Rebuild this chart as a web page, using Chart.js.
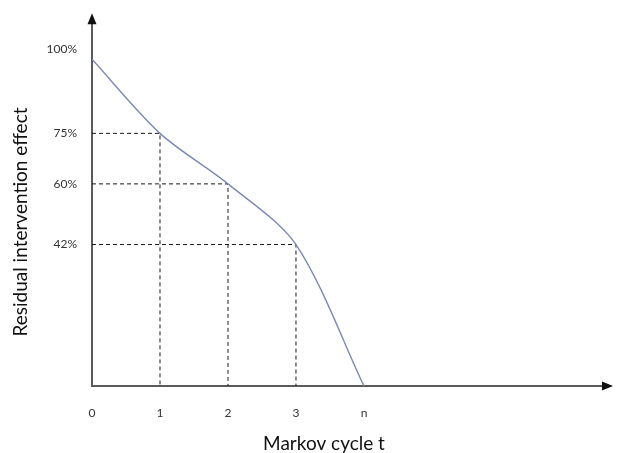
<!DOCTYPE html>
<html>
<head>
<meta charset="utf-8">
<script src="https://cdn.jsdelivr.net/npm/chart.js@4.4.0/dist/chart.umd.min.js"></script>
<style>
  html, body { margin: 0; background: #fff; }
  #wrap { width: 620px; height: 453px; }
</style>
</head>
<body>
<div id="wrap"><canvas id="chart"></canvas></div>
<script>
const cycles = [0, 1, 2, 3, 4];
const cycleLabels = ['0', '1', '2', '3', 'n'];
const residualEffect = [97, 75, 60, 42, 0];
const yTickValues = [42, 60, 75, 100];
const yTickLabels = ['42%', '60%', '75%', '100%'];
const xTitle = 'Markov cycle t';
const yTitle = 'Residual intervention effect';

const FONT = 'Lato, "Open Sans", sans-serif';
const AXIS_COLOR = '#5a5a5a';

// dashed guides from the y axis to each marked point and down to the x axis
const guides = [1, 2, 3].map(i => ({
  data: [
    { x: cycles[0], y: residualEffect[i] },
    { x: cycles[i], y: residualEffect[i] },
    { x: cycles[i], y: 0 }
  ],
  borderColor: '#1a1a1a',
  borderWidth: 1,
  borderDash: [4, 3],
  pointRadius: 0,
  tension: 0,
  fill: false
}));

const arrowsAndTitles = {
  id: 'arrowsAndTitles',
  afterDraw(chart) {
    const { ctx, chartArea } = chart;
    const { left, top, right, bottom } = chartArea;
    ctx.save();
    ctx.fillStyle = '#111';
    // y axis arrow
    ctx.beginPath();
    ctx.moveTo(left, top - 9);
    ctx.lineTo(left - 4.5, top + 2);
    ctx.lineTo(left + 4.5, top + 2);
    ctx.closePath();
    ctx.fill();
    // x axis arrow
    ctx.beginPath();
    ctx.moveTo(right + 9, bottom);
    ctx.lineTo(right - 2, bottom - 4.5);
    ctx.lineTo(right - 2, bottom + 4.5);
    ctx.closePath();
    ctx.fill();

    ctx.fillStyle = '#111';
    ctx.font = '19px ' + FONT;
    ctx.textAlign = 'center';
    ctx.textBaseline = 'alphabetic';
    ctx.fillText(xTitle, 324, 450);

    ctx.translate(27, 222);
    ctx.rotate(-Math.PI / 2);
    ctx.fillText(yTitle, 0, 0);
    ctx.restore();
  }
};

new Chart(document.getElementById('chart'), {
  type: 'line',
  data: {
    datasets: [
      {
        data: cycles.map((x, i) => ({ x, y: residualEffect[i] })),
        borderColor: '#7b8ab2',
        borderWidth: 1.4,
        pointRadius: 0,
        tension: 0.3,
        fill: false
      },
      ...guides
    ]
  },
  options: {
    responsive: true,
    maintainAspectRatio: false,
    animation: false,
    devicePixelRatio: 1,
    layout: { padding: { left: 0, top: 22, right: 16, bottom: 0 } },
    plugins: {
      legend: { display: false },
      tooltip: { enabled: false }
    },
    scales: {
      x: {
        type: 'linear',
        min: 0,
        max: 7.53,
        grid: { display: false, drawTicks: false },
        border: { display: true, color: AXIS_COLOR, width: 2 },
        afterFit: scale => { scale.height = 67; },
        afterBuildTicks: scale => {
          scale.ticks = cycles.map(v => ({ value: v }));
        },
        ticks: {
          padding: 20,
          color: '#333',
          font: { family: FONT, size: 12 },
          callback: value => cycleLabels[cycles.indexOf(value)]
        }
      },
      y: {
        type: 'linear',
        min: 0,
        max: 108,
        grid: { display: false, drawTicks: false },
        border: { display: true, color: AXIS_COLOR, width: 2 },
        afterFit: scale => { scale.width = 92; },
        afterBuildTicks: scale => {
          scale.ticks = yTickValues.map(v => ({ value: v }));
        },
        ticks: {
          padding: 15,
          color: '#333',
          font: { family: FONT, size: 12 },
          callback: value => yTickLabels[yTickValues.indexOf(value)]
        }
      }
    }
  },
  plugins: [arrowsAndTitles]
});
</script>
</body>
</html>
